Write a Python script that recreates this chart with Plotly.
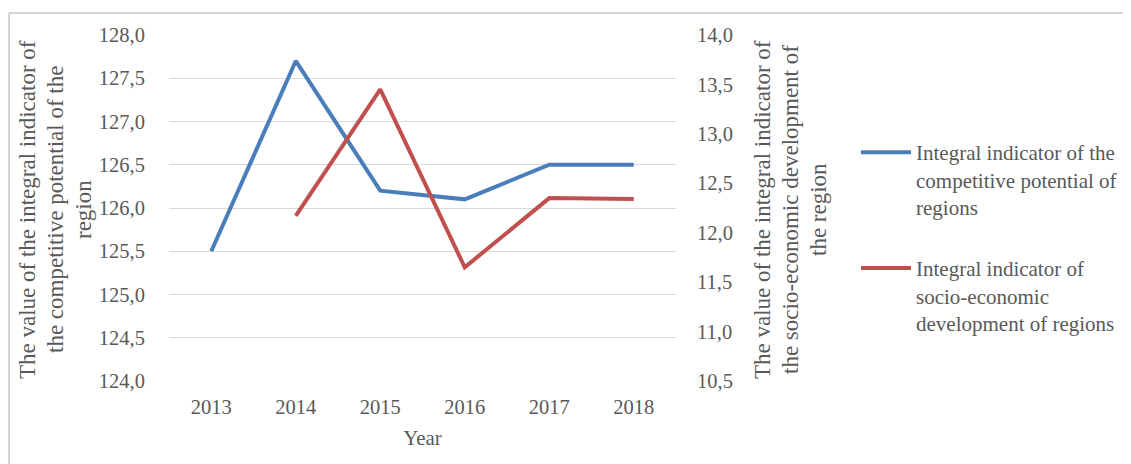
import plotly.graph_objects as go

years = ["2013", "2014", "2015", "2016", "2017", "2018"]
competitive = [125.5, 127.7, 126.2, 126.1, 126.5, 126.5]
socio_years = ["2014", "2015", "2016", "2017", "2018"]
socio = [12.17, 13.45, 11.65, 12.35, 12.34]

name1 = "Integral indicator of the<br>competitive potential of<br>regions"
name2 = "Integral indicator of<br>socio-economic<br>development of regions"
left_title = ["The value of the integral indicator of",
              "the competitive potential of the",
              "region"]
right_title = ["The value of the integral indicator of",
               "the socio-economic development of",
               "the region"]

OFF = 8  # browser body margin
W, H = 1131 - OFF, 464 - OFF
L, R, T, B = 169 - OFF, 676 - OFF, 35 - OFF, 381 - OFF
pw, ph = R - L, B - T

def px(x):
    return (x - OFF - L) / pw

def py(y):
    return (B - (y - OFF)) / ph

FF = "Liberation Serif"
gray = "#595959"

fig = go.Figure()
fig.add_trace(go.Scatter(x=years, y=competitive, mode="lines", name=name1,
                         line=dict(color="#4A7EBB", width=4), legendgroup="a"))
fig.add_trace(go.Scatter(x=socio_years, y=socio, mode="lines", name=name2,
                         line=dict(color="#C0504D", width=4), yaxis="y2", legendgroup="b"))

fig.update_layout(
    width=W, height=H,
    margin=dict(l=L, r=W - R, t=T, b=H - B, autoexpand=False),
    paper_bgcolor="white", plot_bgcolor="white",
    separators=", ",
    font=dict(family=FF, size=20, color=gray),
    xaxis=dict(categoryorder="array", categoryarray=years, range=[-0.5, 5.5],
               showgrid=False, showline=False, ticks="outside", ticklen=7,
               tickcolor="rgba(0,0,0,0)",
               tickfont=dict(family=FF, size=20.5, color=gray),
               title=dict(text="Year", font=dict(family=FF, size=21, color=gray), standoff=13),
               zeroline=False),
    yaxis=dict(range=[124, 128], dtick=0.5, tickformat=".1f", showgrid=True,
               gridcolor="#D9D9D9", gridwidth=1, zeroline=False, showline=False,
               ticks="outside", ticklen=19, tickcolor="rgba(0,0,0,0)",
               tickfont=dict(family=FF, size=20.5, color=gray)),
    yaxis2=dict(range=[10.5, 14], dtick=0.5, tickformat=".1f", overlaying="y",
                side="right", showgrid=False, zeroline=False, showline=False,
                ticks="outside", ticklen=16, tickcolor="rgba(0,0,0,0)",
                tickfont=dict(family=FF, size=20.5, color=gray)),
    showlegend=True,
    legend=dict(x=px(856), y=py(132), xanchor="left", yanchor="top",
                valign="top", tracegroupgap=31, traceorder="grouped",
                font=dict(family=FF, size=21, color=gray), bgcolor="rgba(0,0,0,0)",
                itemwidth=50),
)

for i, line in enumerate(left_title):
    fig.add_annotation(x=px(27 + 28 * i), y=py(210), xref="paper", yref="paper",
                       text=line, textangle=-90, showarrow=False,
                       xanchor="center", yanchor="middle",
                       font=dict(family=FF, size=23, color=gray))
for i, line in enumerate(right_title):
    fig.add_annotation(x=px(762 + 28 * i), y=py(210), xref="paper", yref="paper",
                       text=line, textangle=-90, showarrow=False,
                       xanchor="center", yanchor="middle",
                       font=dict(family=FF, size=23, color=gray))

# outer chart border
border = dict(color="#D4D4D4", width=2)
fig.add_shape(type="line", xref="paper", yref="paper",
              x0=px(9), x1=px(1140), y0=py(13), y1=py(13), line=border)
fig.add_shape(type="line", xref="paper", yref="paper",
              x0=px(9), x1=px(9), y0=py(13), y1=py(470), line=border)

fig.write_html("out.html")
